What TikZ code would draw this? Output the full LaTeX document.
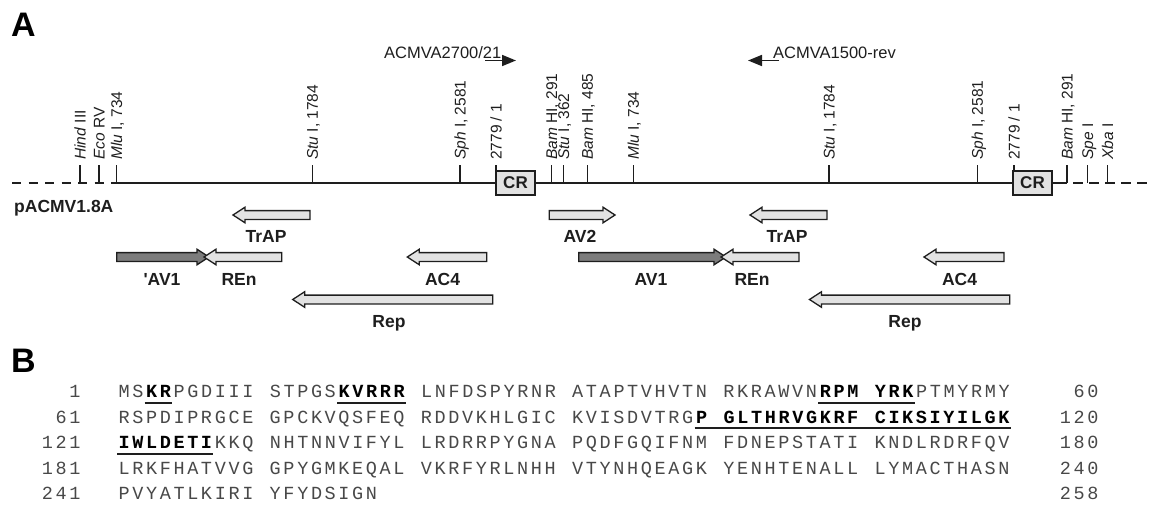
\documentclass[tikz,border=0pt]{standalone}
\usepackage{fontspec}
\setmainfont{Liberation Sans}
\newfontfamily\seqfont{Liberation Mono}
\usetikzlibrary{arrows.meta}
\definecolor{genefill}{HTML}{E2E2E2}
\definecolor{avfill}{HTML}{7C7C7C}
\definecolor{ink}{HTML}{1E1E1E}
\definecolor{seqgray}{HTML}{484848}
\newlength\seqcw \setlength\seqcw{13.75pt}
\makeatletter
\def\sqend{\sqend}
\def\sq#1{\sq@#1\sqend}
\def\sq@#1{\ifx#1\sqend\else\ifx#1.\hbox to\seqcw{\hfil}\else\hbox to\seqcw{\hss#1\hss}\fi\expandafter\sq@\fi}
\newcommand\sqb[1]{{\bfseries\color{black}\sq{#1}}}
\makeatother
% gene arrow: tail x, tip x, y, fill
\newcommand\genearrow[4]{%
  \pgfmathsetmacro\hb{#2-12*sign(#2-#1)}%
  \draw[genebox,fill=#4] (#1,#3-4.4) -- (\hb,#3-4.4) -- (\hb,#3-7.8) -- (#2,#3) -- (\hb,#3+7.8) -- (\hb,#3+4.4) -- (#1,#3+4.4) -- cycle;}
\newcommand\sequl[3]{\draw[uline] ({117+#2*13.75},#1+5) -- ({117+(#3+1)*13.75},#1+5);}
\begin{document}
\begin{tikzpicture}[x=1pt,y=-1pt,
  lab/.style={font=\fontsize{15.5}{15.5}\selectfont, inner sep=0, text=ink},
  plab/.style={font=\fontsize{16.5}{16.5}\selectfont, inner sep=0, text=ink, anchor=base west},
  site/.style={lab, rotate=90, anchor=base west},
  gene/.style={font=\bfseries\fontsize{17.5}{17.5}\selectfont, inner sep=0, anchor=base, text=ink},
  panel/.style={font=\bfseries\fontsize{34}{34}\selectfont, inner sep=0, anchor=base west, text=black},
  genebox/.style={draw=ink, line width=1.3pt, line join=miter},
  crbox/.style={draw=ink, line width=1.3pt, fill=genefill, minimum width=39pt, minimum height=24pt, inner sep=0, font=\bfseries\fontsize{17}{17}\selectfont, text=ink},
  mainline/.style={draw=ink, line width=1.5pt},
  seq/.style={font=\seqfont\fontsize{18.5}{18.5}\selectfont, inner sep=0, text=seqgray},
  uline/.style={line width=2pt, draw=ink},
  primer/.style={line width=1.7pt, draw=ink, -{Triangle[length=14pt,width=11pt]}},
]
\useasboundingbox (0,0) rectangle (1150,512);
% panel labels
\node[panel] (A) at (11,36) {A};
\node[panel] (B) at (11,372) {B};
% primers
\node[plab] (pr1) at (384,58) {ACMVA2700/21};
\coordinate (pr1a) at (485,60.5); \coordinate (pr1b) at (516,60.5);
\draw[primer] (pr1a) -- (pr1b);
\node[plab] (pr2) at (773,58) {ACMVA1500-rev};
\coordinate (pr2a) at (779,60.5); \coordinate (pr2b) at (748,60.5);
\draw[primer] (pr2a) -- (pr2b);
% main line
\coordinate (L0) at (12,183); \coordinate (L1) at (116.7,183);
\coordinate (L2) at (1067,183); \coordinate (L3) at (1150,183);
\draw[mainline, dash pattern=on 9pt off 7.5pt] (L0) -- (L1);
\draw[mainline] (L1) -- (L2);
\draw[mainline, dash pattern=on 10pt off 6pt, dash phase=10pt] (L2) -- (L3);
% ticks
\foreach \x in {80,99,116.7,312.3,460,496,551.7,563.7,587.3,633.3,829,977.3,1014,1067,1087.7,1107.7}
  \draw[mainline] (\x,183) -- (\x,165);
% site labels
\node[site] (s1) at (80+5.5,160) {\textit{Hind} III};
\node[site] (s2) at (99+5.5,160) {\textit{Eco} RV};
\node[site] (s3) at (116.7+5.5,160) {\textit{Mlu} I, 734};
\node[site] (s4) at (312.3+5.5,160) {\textit{Stu} I, 1784};
\node[site] (s5) at (460+5.5,160) {\textit{Sph} I, 2581};
\node[site] (s6) at (496+5.5,160) {2779 / 1};
\node[site] (s7) at (551.7+5.5,160) {\textit{Bam} HI, 291};
\node[site] (s8) at (563.7+5.5,160) {\textit{Stu} I, 362};
\node[site] (s9) at (587.3+5.5,160) {\textit{Bam} HI, 485};
\node[site] (s10) at (633.3+5.5,160) {\textit{Mlu} I, 734};
\node[site] (s11) at (829+5.5,160) {\textit{Stu} I, 1784};
\node[site] (s12) at (977.3+5.5,160) {\textit{Sph} I, 2581};
\node[site] (s13) at (1014+5.5,160) {2779 / 1};
\node[site] (s14) at (1067+5.5,160) {\textit{Bam} HI, 291};
\node[site] (s15) at (1087.7+5.5,160) {\textit{Spe} I};
\node[site] (s16) at (1107.7+5.5,160) {\textit{Xba} I};
% CR boxes
\node[crbox] (cr1) at (515.5,183) {CR};
\node[crbox] (cr2) at (1032.5,183) {CR};
% plasmid name
\node[gene, anchor=base west] (pname) at (14,212) {pACMV1.8A};
% gene arrows
\genearrow{310}{233}{215}{genefill}
\genearrow{549.3}{615}{215}{genefill}
\genearrow{827}{750}{215}{genefill}
\genearrow{116.7}{209}{257}{avfill}
\genearrow{281.7}{204}{257}{genefill}
\genearrow{486.7}{407.3}{257}{genefill}
\genearrow{578.8}{726}{257}{avfill}
\genearrow{799}{721}{257}{genefill}
\genearrow{1004}{924}{257}{genefill}
\genearrow{492.7}{292.7}{299.5}{genefill}
\genearrow{1009.7}{809.5}{299.5}{genefill}
% gene labels
\node[gene] (g1) at (266,242) {TrAP};
\node[gene] (g2) at (580,242) {AV2};
\node[gene] (g3) at (787,242) {TrAP};
\node[gene] (g4) at (162,285) {\textquotesingle AV1};
\node[gene] (g5) at (239,285) {REn};
\node[gene] (g6) at (442.5,285) {AC4};
\node[gene] (g7) at (651,285) {AV1};
\node[gene] (g8) at (752,285) {REn};
\node[gene] (g9) at (959.5,285) {AC4};
\node[gene] (g10) at (389,327) {Rep};
\node[gene] (g11) at (905,327) {Rep};
% sequence
\node[seq, anchor=base east] (n1) at (82,397.5) {\sq{1}};
\node[seq, anchor=base east] (n2) at (82,423) {\sq{61}};
\node[seq, anchor=base east] (n3) at (82,448.5) {\sq{121}};
\node[seq, anchor=base east] (n4) at (82,474) {\sq{181}};
\node[seq, anchor=base east] (n5) at (82,499.5) {\sq{241}};
\node[seq, anchor=base west] (r1) at (117,397.5) {\sq{MS}\sqb{KR}\sq{PGDIII.STPGS}\sqb{KVRRR}\sq{.LNFDSPYRNR.ATAPTVHVTN.RKRAWVN}\sqb{RPM.YRK}\sq{PTMYRMY}};
\node[seq, anchor=base west] (r2) at (117,423) {\sq{RSPDIPRGCE.GPCKVQSFEQ.RDDVKHLGIC.KVISDVTRG}\sqb{P.GLTHRVGKRF.CIKSIYILGK}};
\node[seq, anchor=base west] (r3) at (117,448.5) {\sqb{IWLDETI}\sq{KKQ.NHTNNVIFYL.LRDRRPYGNA.PQDFGQIFNM.FDNEPSTATI.KNDLRDRFQV}};
\node[seq, anchor=base west] (r4) at (117,474) {\sq{LRKFHATVVG.GPYGMKEQAL.VKRFYRLNHH.VTYNHQEAGK.YENHTENALL.LYMACTHASN}};
\node[seq, anchor=base west] (r5) at (117,499.5) {\sq{PVYATLKIRI.YFYDSIGN}};
\node[seq, anchor=base east] (m1) at (1100,397.5) {\sq{60}};
\node[seq, anchor=base east] (m2) at (1100,423) {\sq{120}};
\node[seq, anchor=base east] (m3) at (1100,448.5) {\sq{180}};
\node[seq, anchor=base east] (m4) at (1100,474) {\sq{240}};
\node[seq, anchor=base east] (m5) at (1100,499.5) {\sq{258}};
% underlines
\sequl{397.5}{2}{3}
\sequl{397.5}{16}{20}
\sequl{397.5}{51}{57}
\sequl{423}{42}{64}
\sequl{448.5}{0}{6}
\end{tikzpicture}
\end{document}
